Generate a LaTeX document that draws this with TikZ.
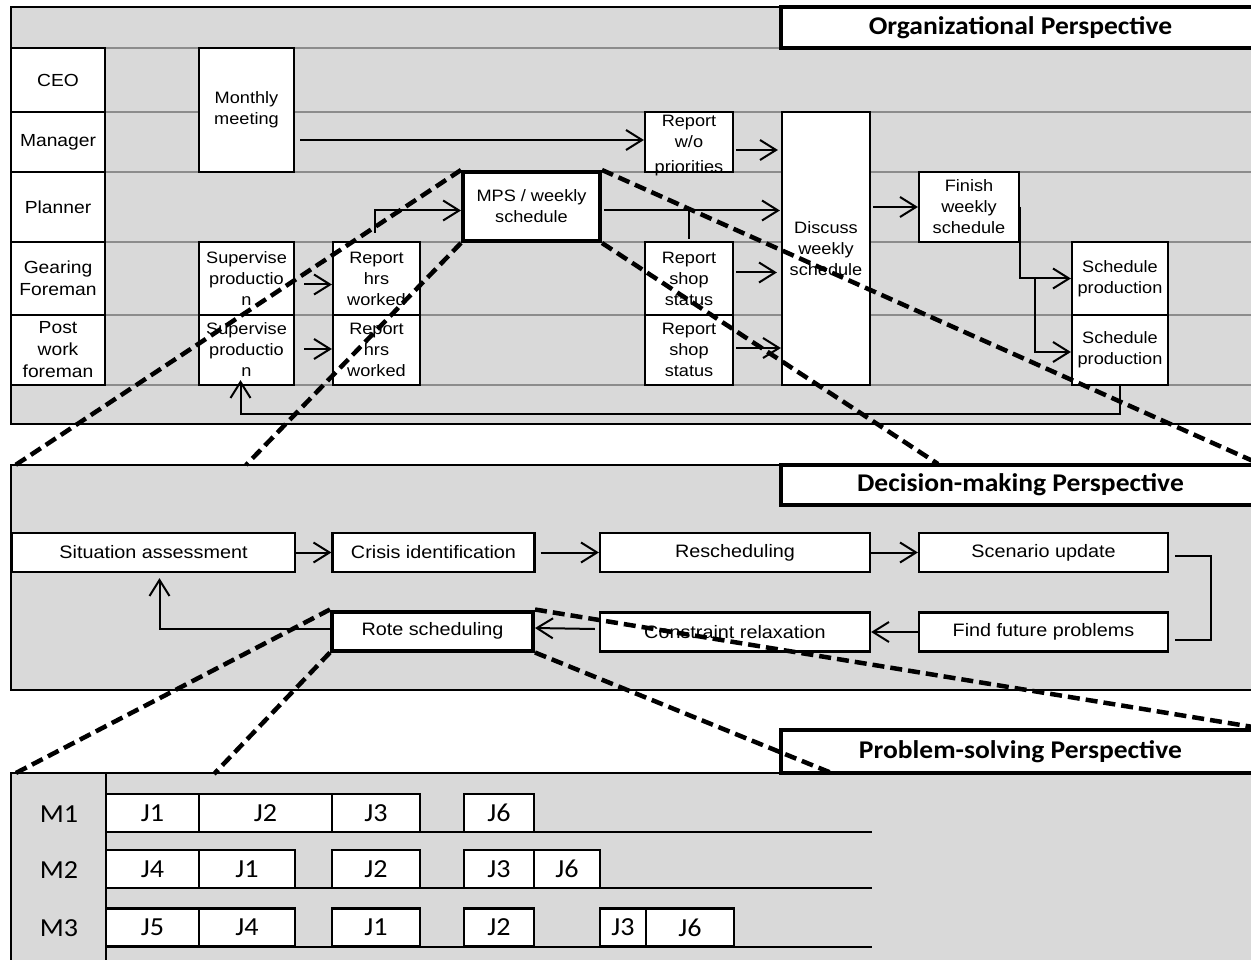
\documentclass[tikz,border=0pt]{standalone}
\usepackage{fontspec}
\usetikzlibrary{arrows.meta,calc}
\newfontfamily\arialx[FakeStretch=1.1]{Liberation Sans}
\newfontfamily\calx[FakeStretch=1.08]{Carlito}
\definecolor{panelgray}{RGB}{217,217,217}
\definecolor{lanegray}{RGB}{140,140,140}
\tikzset{every picture/.style={line width=0.75pt}}
\tikzset{
  panel/.style={draw=black,line width=2pt,fill=panelgray},
  lane/.style={draw=lanegray,line width=2.2pt},
  box/.style={draw,fill=white,line width=2.2pt,inner sep=0pt,align=center,font=\arialx\fontsize{16.5}{21}\selectfont},
  lanebox/.style={box,minimum width=94,font=\arialx\fontsize{17.5}{22}\selectfont},
  keybox/.style={box,line width=4pt},
  stepbox/.style={box,minimum height=39,font=\arialx\fontsize{18}{20}\selectfont},
  titlebox/.style={draw,fill=white,line width=4pt,inner sep=0pt,minimum width=479,font=\calx\bfseries\fontsize{25.5}{28}\selectfont},
  jobbox/.style={draw,fill=white,line width=2.2pt,inner sep=0pt,minimum height=38,font=\calx\fontsize{26}{28}\selectfont},
  mlabel/.style={inner sep=0pt,font=\calx\fontsize{26}{28}\selectfont},
  arr/.style={line width=2pt,-{Straight Barb[length=16pt,width=20pt]}},
  link/.style={line width=2pt},
  zoomline/.style={line width=4.5pt,dash pattern=on 12pt off 6pt}
}

\begin{document}
\begin{tikzpicture}[x=1pt,y=1pt,yscale=-1,xscale=1]
\useasboundingbox (0,0) rectangle (1251,960);

%Shape: Rectangle (organizational panel)
\draw[panel] (11,7) rectangle (1262,424);
\draw[lane] (105,48) -- (781,48);
\foreach \y in {112,172,242,315,385}
  \draw[lane] (105,\y) -- (1262,\y);
% Text Node
\node[titlebox,minimum height=41] (orgt) at (1020.5,27.5) {Organizational Perspective};

%Lanes
\node[lanebox,minimum height=64] (ceo) at (58,80) {CEO};
\node[lanebox,minimum height=60] (mgr) at (58,142) {Manager};
\node[lanebox,minimum height=70] (pln) at (58,207) {Planner};
\node[lanebox,minimum height=73] (gfm) at (58,278.5) {Gearing\\Foreman};
\node[lanebox,minimum height=70] (pwf) at (58,350) {Post\\work\\foreman};

%Activities
\node[box,minimum width=95,minimum height=124] (mm) at (246.5,110) {Monthly\\meeting};
\node[box,minimum width=88,minimum height=60] (rwo) at (689,142) {Report\\w/o\\\raisebox{-4pt}[0pt][0pt]{priorities}};
\node[keybox,minimum width=137,minimum height=69] (mps) at (531.5,206.5) {MPS / weekly\\schedule};
\node[box,minimum width=95,minimum height=73] (sv1) at (246.5,278.5) {Supervise\\productio\\n};
\node[box,minimum width=87,minimum height=73] (rh1) at (376.5,278.5) {Report\\hrs\\worked};
\node[box,minimum width=95,minimum height=70] (sv2) at (246.5,350) {Supervise\\productio\\n};
\node[box,minimum width=87,minimum height=70] (rh2) at (376.5,350) {Report\\hrs\\worked};
\node[box,minimum width=88,minimum height=73] (rs1) at (689,278.5) {Report\\shop\\status};
\node[box,minimum width=88,minimum height=70] (rs2) at (689,350) {Report\\shop\\status};
\node[box,minimum width=88,minimum height=273] (disc) at (826,248.5) {Discuss\\weekly\\schedule};
\node[box,minimum width=100,minimum height=70] (fin) at (969,207) {Finish\\weekly\\schedule};
\node[box,minimum width=96,minimum height=73] (sp1) at (1120,278.5) {Schedule\\production};
\node[box,minimum width=96,minimum height=70] (sp2) at (1120,350) {Schedule\\production};

%Straight Lines
\draw[arr] ($(mm.east |- rwo.west)+(5,-2)$) -- ($(rwo.west)+(0,-2)$);
\draw[arr] ($(rwo.east)+(2,8)$) -- ($(disc.west |- rwo.east)+(-3,8)$);
\draw[arr] ($(rh1.north)+(-1.5,-8)$) |- ($(mps.west)+(0,4)$);
\draw[arr] ($(mps.east)+(2,4)$) -- ($(disc.west |- mps.east)+(-1,4)$);
\draw[link] ($(rs1.north)+(0,-2)$) -- ($(rs1.north |- mps.east)+(0,4)$);
\draw[arr] ($(sv1.east)+(9,6)$) -- ($(rh1.west)+(0,6)$);
\draw[arr] ($(sv2.east)+(9,-1)$) -- ($(rh2.west)+(0,-1)$);
\draw[arr] ($(rs1.east)+(2,-6)$) -- ($(disc.west |- rs1.east)+(-4,-6)$);
\draw[arr] ($(rs2.east)+(2,-2)$) -- ($(disc.west |- rs2.east)+(0,-2)$);
\draw[arr] ($(disc.east |- fin.west)+(2,0)$) -- (fin.west);
\coordinate (fork) at ($(sp1.west)+(-36,0)$);
\draw[link] (fin.east) |- (fork);
\draw[arr] (fork) -- (sp1.west);
\draw[arr] (fork) |- ($(sp2.west)+(0,2)$);
\draw[arr] (sp2.south) -- ++(0,28) -| ($(sv2.south)+(-6,-6)$);

%Shape: Rectangle (decision-making panel)
\draw[panel] (11,465) rectangle (1262,690);
% Text Node
\node[titlebox,minimum height=40] (dmt) at (1020.5,485) {Decision-making Perspective};

\node[stepbox,minimum width=283] (sa) at (153.5,552.5) {Situation assessment};
\node[stepbox,minimum width=202] (ci) at (433.5,552.5) {Crisis identification};
\node[stepbox,minimum width=270] (rsch) at (735,552.5) {Rescheduling};
\node[stepbox,minimum width=249] (su) at (1043.5,552.5) {Scenario update};
\node[stepbox,minimum width=249] (ffp) at (1043.5,632) {Find future problems};
\node[stepbox,minimum width=270] (cr) at (735,632) {Constraint relaxation};
\node[stepbox,line width=4pt,minimum width=201] (rote) at (432.5,631) {Rote scheduling};

%Straight Lines
\draw[arr] (sa.east) -- (ci.west);
\draw[arr] ($(ci.east)+(5,0)$) -- (rsch.west);
\draw[arr] (rsch.east) -- (su.west);
\draw[link] ($(su.east)+(6,3)$) -- ++(36,0) |- ($(ffp.east)+(6,8)$);
\draw[arr] (ffp.west) -- (cr.east);
\draw[arr] ($(cr.west)+(-4,-3)$) -- ($(rote.east)+(0,-3)$);
\draw[arr] ($(rote.west)+(0,-2)$) -| ($(sa.south)+(6,5)$);

%Shape: Rectangle (problem-solving panel)
\draw[panel] (11,773) rectangle (1262,975);
% Text Node
\node[titlebox,minimum height=43] (pst) at (1020.5,751.5) {Problem-solving Perspective};
\draw[link] (106,773) -- (106,965);
\foreach \y in {832,888,947}
  \draw[link] (106,\y) -- (872,\y);
\node[mlabel] (m1) at (59,814) {M1};
\node[mlabel] (m2) at (59,870) {M2};
\node[mlabel] (m3) at (59,928.5) {M3};
\foreach \a/\b/\r/\t [count=\i] in {
    106/199/813/J1, 199/332/813/J2, 332/420/813/J3, 464/534/813/J6,
    106/199/869/J4, 199/295/869/J1, 332/420/869/J2, 464/534/869/J3, 534/600/869/J6,
    106/199/927.5/J5, 199/295/927.5/J4, 332/420/927.5/J1, 464/534/927.5/J2, 600/646/927.5/J3, 646/734/927.5/J6}
  \node[jobbox,minimum width=\b-\a] (job\i) at ({(\a+\b)/2},\r) {\t};

%Zoom lines
\coordinate (dm1) at (14,466);
\coordinate (dm2) at (246,465);
\coordinate (dm3) at (938,464);
\coordinate (dm4) at (1253,461);
\coordinate (ps1) at (14,774);
\coordinate (ps2) at (214,774);
\coordinate (ps3) at (834,774);
\coordinate (ps4) at (1253,727);
\draw[zoomline] (mps.north west) -- (dm1);
\draw[zoomline] (mps.south west) -- (dm2);
\draw[zoomline] (mps.south east) -- (dm3);
\draw[zoomline] (mps.north east) -- (dm4);
\draw[zoomline] (rote.north west) -- (ps1);
\draw[zoomline] (rote.south west) -- (ps2);
\draw[zoomline] (rote.south east) -- (ps3);
\draw[zoomline] (rote.north east) -- (ps4);

\end{tikzpicture}
\end{document}
